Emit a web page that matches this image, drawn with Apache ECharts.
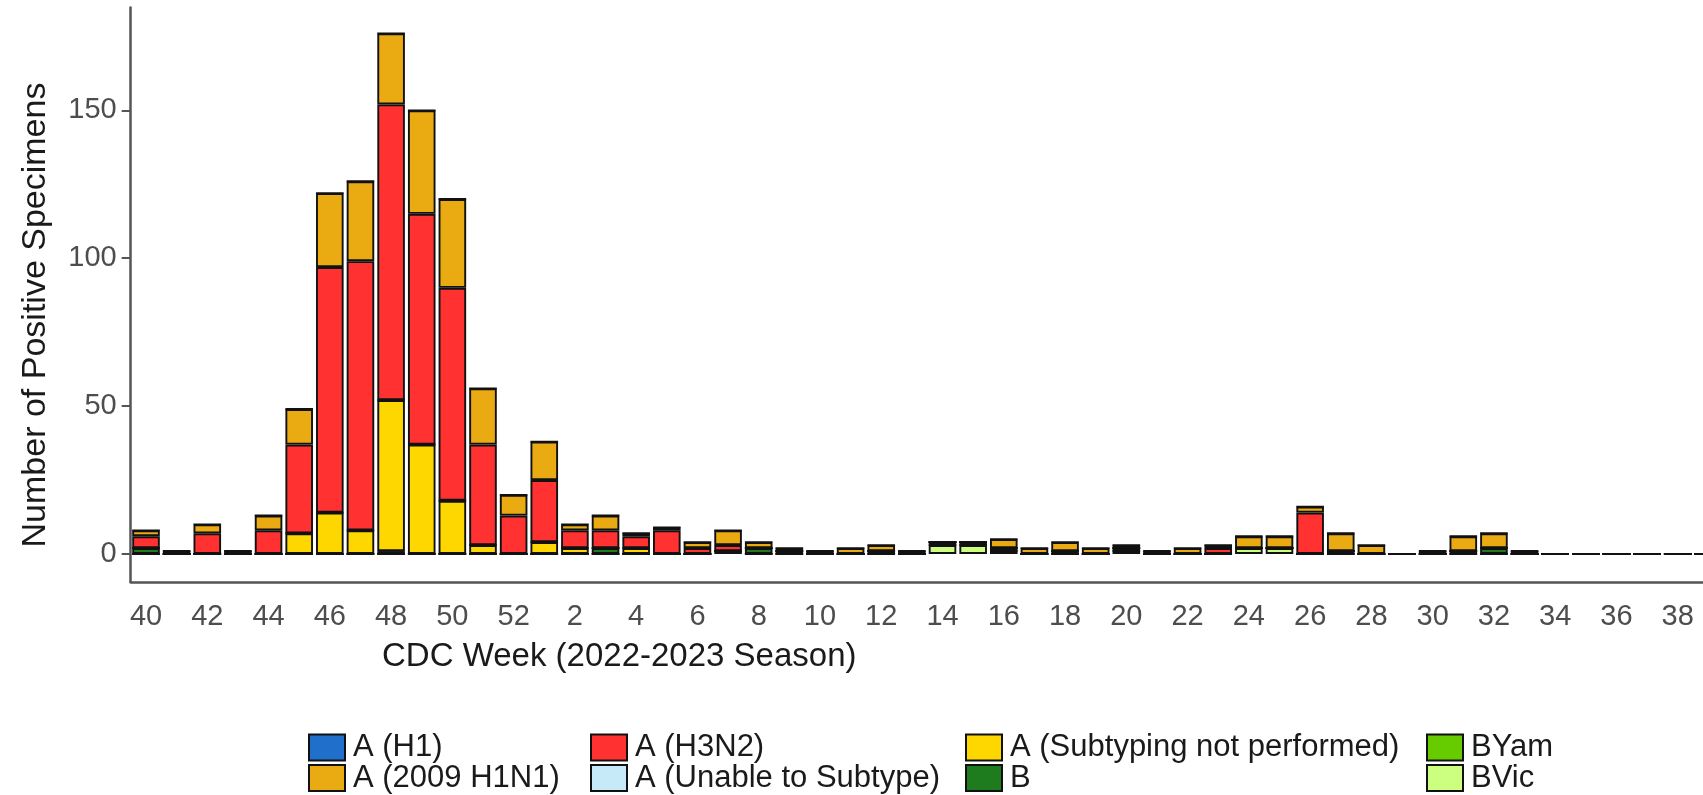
<!DOCTYPE html>
<html>
<head>
<meta charset="utf-8">
<script src="https://cdn.jsdelivr.net/npm/echarts@6.0.0/dist/echarts.min.js"></script>
<style>
html,body{margin:0;padding:0;background:#fff;overflow:hidden;}
#chart{width:1703px;height:795px;}
</style>
</head>
<body>
<div id="chart"></div>
<script>
// CDC weeks of the 2022-2023 season
const weeks = ['40','41','42','43','44','45','46','47','48','49','50','51','52',
  '1','2','3','4','5','6','7','8','9','10','11','12','13','14','15','16','17','18','19','20',
  '21','22','23','24','25','26','27','28','29','30','31','32','33','34','35','36','37','38','39'];

const aH1      = [0,0,0,0,0,0,0,0,0,0,0,0,0, 0,0,0,0,0,0,0,0,0,0, 0,0,0,0,0,0,0,0,0,0, 0,0,0,0,0,0,0,0,0,0, 0,0,0,0,0,0,0,0,0];
const a2009    = [2,1,3,1,5,12,25,27,24,35,30,19,7, 13,2,5,1,1,2,5,2,1,1, 2,2,1,0,0,3,2,3,2,1, 1,2,1,4,4,2,6,3,0,1, 5,5,1,0,0,0,0,0,0];
const aH3N2    = [4,0,7,0,8,30,83,91,100,78,72,34,13, 21,6,6,4,8,2,2,0,0,0, 0,0,0,0,0,0,0,0,0,0, 0,0,2,0,0,14,0,0,0,0, 0,0,0,0,0,0,0,0,0];
const aUnable  = [0,0,0,0,0,0,0,0,0,0,0,0,0, 0,0,0,0,0,0,0,0,0,0, 0,0,0,0,0,0,0,0,0,0, 0,0,0,0,0,0,0,0,0,0, 0,0,0,0,0,0,0,0,0];
const aNotPerf = [0,0,0,0,0,7,14,8,51,37,18,3,0, 4,2,0,2,0,0,0,0,0,0, 0,0,0,0,0,0,0,0,0,0, 0,0,0,0,0,0,0,0,0,0, 0,0,0,0,0,0,0,0,0];
const bUnk     = [2,0,0,0,0,0,0,0,1,0,0,0,0, 0,0,2,0,0,0,0,2,1,0, 0,1,0,1,1,1,0,1,0,1, 0,0,0,0,0,0,1,0,0,0, 1,2,0,0,0,0,0,0,0];
const bYam     = [0,0,0,0,0,0,0,0,0,0,0,0,0, 0,0,0,0,0,0,0,0,0,0, 0,0,0,0,0,0,0,0,0,0, 0,0,0,0,0,0,0,0,0,0, 0,0,0,0,0,0,0,0,0];
const bVic     = [0,0,0,0,0,0,0,0,0,0,0,0,0, 0,0,0,0,0,0,1,0,0,0, 0,0,0,3,3,1,0,0,0,1, 0,0,0,2,2,0,0,0,0,0, 0,0,0,0,0,0,0,0,0];

const yTicks = [0, 50, 100, 150];

const seriesDefs = [
  {name:'BVic', data:bVic, color:'#CCFF80'},
  {name:'BYam', data:bYam, color:'#66CC00'},
  {name:'B', data:bUnk, color:'#1E7B1E'},
  {name:'A (Subtyping not performed)', data:aNotPerf, color:'#FFD700'},
  {name:'A (Unable to Subtype)', data:aUnable, color:'#C6EAF8'},
  {name:'A (H3N2)', data:aH3N2, color:'#FF3131'},
  {name:'A (2009 H1N1)', data:a2009, color:'#EAAB12'},
  {name:'A (H1)', data:aH1, color:'#1F6FCB'}
];

const FONT = '"Liberation Sans", Arial, sans-serif';
const legendCommon = {
  orient:'vertical', top:732, height:70, padding:0, itemWidth:36, itemHeight:26, itemGap:-0.5,
  icon:'rect', selectedMode:false,
  textStyle:{fontSize:31, fontFamily:FONT, color:'#1a1a1a', lineHeight:26, padding:[0,0,0,3]}
};

const chart = echarts.init(document.getElementById('chart'), null, {renderer:'canvas'});
chart.setOption({
  animation:false,
  backgroundColor:'#fff',
  grid:{left:130.7, width:1593, top:7.4, height:574.4, containLabel:false, outerBoundsMode:'none'},
  legend:[
    Object.assign({}, legendCommon, {left:308, data:['A (H1)','A (2009 H1N1)']}),
    Object.assign({}, legendCommon, {left:590, data:['A (H3N2)','A (Unable to Subtype)']}),
    Object.assign({}, legendCommon, {left:965, data:['A (Subtyping not performed)','B']}),
    Object.assign({}, legendCommon, {left:1426, data:['BYam','BVic']})
  ],
  xAxis:{
    type:'category', data:weeks, boundaryGap:true,
    axisLine:{onZero:false, lineStyle:{color:'#555', width:2.5}},
    axisTick:{interval:1, alignWithLabel:true, length:8, lineStyle:{color:'#555', width:2}},
    axisLabel:{interval:1, color:'#4d4d4d', fontSize:29, fontFamily:FONT, margin:21},
    splitLine:{show:false}
  },
  yAxis:{
    type:'value', min:-9.4, max:184.8,
    axisLine:{show:true, lineStyle:{color:'#555', width:2.5}},
    axisTick:{show:true, customValues:yTicks, length:9, lineStyle:{color:'#555', width:2}},
    axisLabel:{customValues:yTicks, color:'#4d4d4d', fontSize:29, fontFamily:FONT, margin:14},
    splitLine:{show:false}
  },
  graphic:[
    {type:'text', left:382, top:640, style:{text:'CDC Week (2022-2023 Season)', fontSize:33, fontFamily:FONT, fill:'#1a1a1a'}},
    {type:'text', x:36, y:315, rotation:Math.PI/2,
     style:{text:'Number of Positive Specimens', fontSize:34, fontFamily:FONT, fill:'#1a1a1a', align:'center', verticalAlign:'middle'}}
  ],
  series: seriesDefs.map(s => ({
    name:s.name, type:'bar', stack:'total', data:s.data, barWidth:'90%',
    itemStyle:{color:s.color, borderColor:'#111', borderWidth:1.9},
    emphasis:{disabled:true}
  }))
});
</script>
</body>
</html>
